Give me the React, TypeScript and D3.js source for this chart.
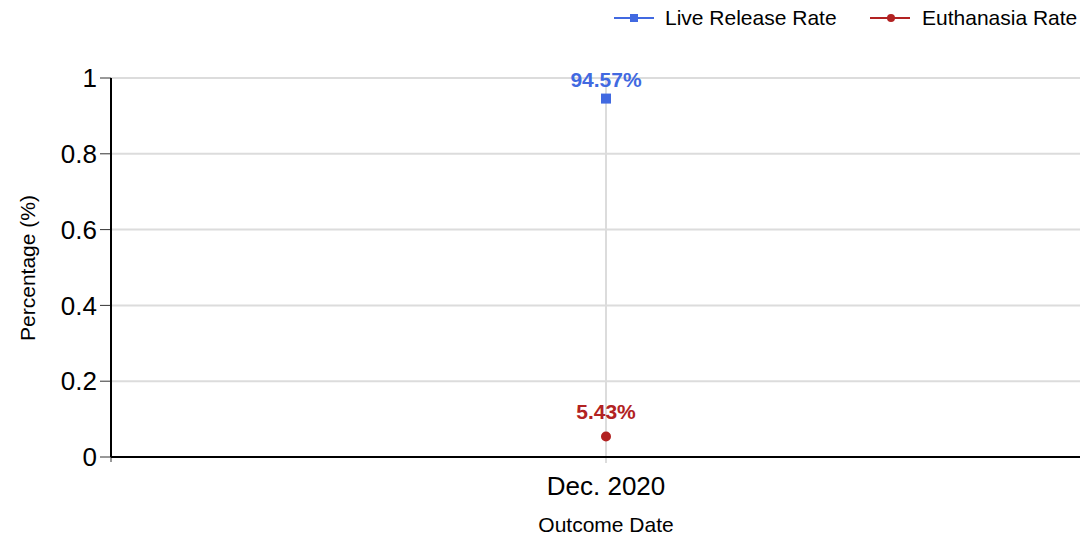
import React from "react";
import * as d3 from "d3";

const categories = ["Dec. 2020"];
const liveRelease = [0.9457];
const euthanasia = [0.0543];
const yTicks = [0, 0.2, 0.4, 0.6, 0.8, 1];
const seriesNames = ["Live Release Rate", "Euthanasia Rate"];
const seriesColors = ["#4169e1", "#b22222"];

export default function App() {
  const W = 1080, H = 538;
  const left = 111, right = 1101, top = 78, bottom = 457;
  const x = d3.scalePoint<string>().domain(categories).range([left, right]).padding(0.5);
  const y = d3.scaleLinear().domain([0, 1]).range([bottom, top]);
  const font = "'Liberation Sans', Arial, sans-serif";
  const fmt = (v: number) => (v * 100).toFixed(2) + "%";
  return (
    <svg width={W} height={H} style={{ position: "absolute", left: 0, top: 0, overflow: "hidden" }} fontFamily={font}>
      <rect width={W} height={H} fill="#fff" />
      {yTicks.map((t) => (
        <g key={t}>
          {t > 0 && <line x1={left} x2={right} y1={y(t)} y2={y(t)} stroke="#dcdcdc" strokeWidth={2} />}
          <line x1={left - 11} x2={left} y1={y(t)} y2={y(t)} stroke="#333" strokeWidth={1} />
          <text x={left - 14} y={y(t)} dy="0.35em" textAnchor="end" fontSize={26} fill="#000">{String(t)}</text>
        </g>
      ))}
      {categories.map((c) => (
        <g key={c}>
          <line x1={x(c)} x2={x(c)} y1={top} y2={bottom + 6} stroke="#dcdcdc" strokeWidth={2} />
          <text x={x(c)} y={495} textAnchor="middle" fontSize={26} fill="#000">{c}</text>
        </g>
      ))}
      <line x1={left} x2={left} y1={top} y2={bottom + 5} stroke="#333" strokeWidth={1} />
      <line x1={left} x2={left} y1={top} y2={bottom} stroke="#000" strokeWidth={2} />
      <line x1={left} x2={right} y1={bottom} y2={bottom} stroke="#000" strokeWidth={2} />
      {categories.map((c, i) => (
        <g key={"p" + c}>
          <rect x={(x(c) as number) - 5} y={y(liveRelease[i]) - 5} width={10} height={10} fill={seriesColors[0]} />
          <text x={x(c)} y={y(liveRelease[i]) - 12} textAnchor="middle" fontSize={21} fontWeight="bold" fill={seriesColors[0]}>{fmt(liveRelease[i])}</text>
          <circle cx={x(c)} cy={y(euthanasia[i])} r={5} fill={seriesColors[1]} />
          <text x={x(c)} y={y(euthanasia[i]) - 17} textAnchor="middle" fontSize={21} fontWeight="bold" fill={seriesColors[1]}>{fmt(euthanasia[i])}</text>
        </g>
      ))}
      <text x={606} y={532} textAnchor="middle" fontSize={21} fill="#000">Outcome Date</text>
      <text transform="translate(35,268) rotate(-90)" textAnchor="middle" fontSize={21} fill="#000">Percentage (%)</text>
      {/* legend */}
      <g>
        <line x1={614} x2={654} y1={18} y2={18} stroke={seriesColors[0]} strokeWidth={2} />
        <rect x={630} y={14} width={8} height={8} fill={seriesColors[0]} />
        <text x={665} y={25} fontSize={21} fill="#000">{seriesNames[0]}</text>
        <line x1={870} x2={910} y1={18} y2={18} stroke={seriesColors[1]} strokeWidth={2} />
        <circle cx={891} cy={18} r={4} fill={seriesColors[1]} />
        <text x={922} y={25} fontSize={21} fill="#000">{seriesNames[1]}</text>
      </g>
    </svg>
  );
}
